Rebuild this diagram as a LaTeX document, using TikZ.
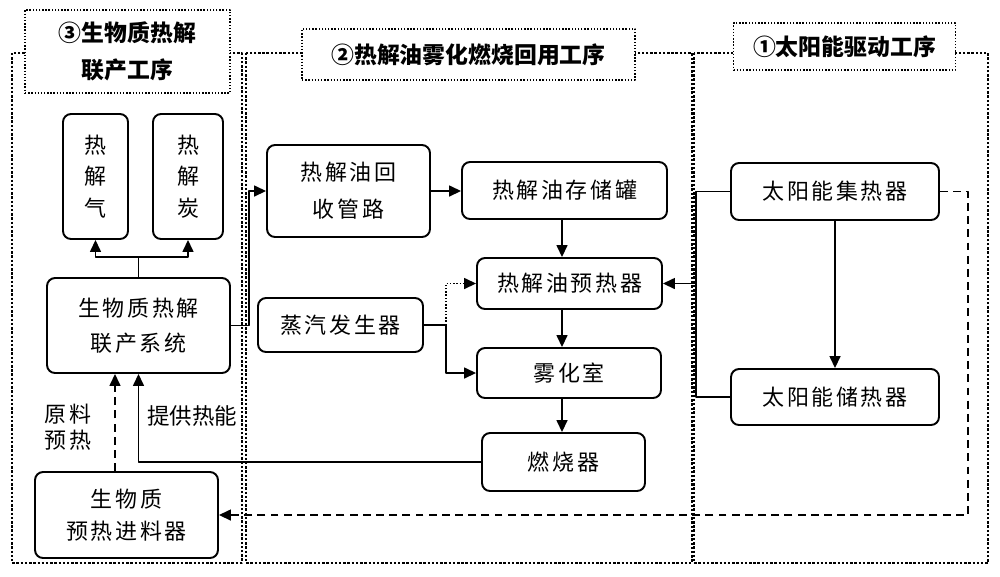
\documentclass[tikz,border=0pt]{standalone}
\usepackage{fontspec}
\setmainfont{Noto Sans CJK SC}
\newfontfamily\boxfont{Noto Sans CJK SC}[LetterSpace=12]
\usetikzlibrary{positioning,arrows.meta,calc}

\begin{document}
\begin{tikzpicture}[x=0.02cm, y=-0.02cm, line join=round,
  every node/.style={font={\boxfont\fontsize{12.5}{17}\selectfont}, align=center},
  box/.style={draw, line width=1.1pt, rounded corners=0.16cm, fill=white},
  arr/.style={-{Triangle[length=2.4mm,width=2.2mm]}, line width=0.85pt},
  dashline/.style={dash pattern=on 4.5pt off 3pt},
  panel/.style={draw, densely dotted, line width=1.4pt},
  heading/.style={draw, densely dotted, line width=0.8pt, fill=white, inner sep=0pt,
    font={\rmfamily\bfseries\fontsize{13}{21}\selectfont}}]
  \useasboundingbox (0,0) rectangle (1000,576);
  % three process panels
  \draw[panel] (12,53) rectangle (242,563);
  \draw[panel] (246,53) rectangle (692,563);
  \draw[panel] (694,53) rectangle (988,563);
  \node[heading, minimum width=4.1cm, minimum height=1.66cm] (h3) at (127.5,51.5) {③生物质热解\\联产工序};
  \node[heading, minimum width=6.66cm, minimum height=1.02cm] (h2) at (468.5,54.5) {②热解油雾化燃烧回用工序};
  \node[heading, minimum width=4.44cm, minimum height=0.94cm] (h1) at (844.5,46.5) {①太阳能驱动工序};
  % panel 3
  \node[box, minimum width=1.3cm, minimum height=2.5cm] (gas) at (95.5,176.5) {热\\[1pt]解\\[1pt]气};
  \node[box, minimum width=1.4cm, minimum height=2.5cm] (char) at (188,176.5) {热\\[1pt]解\\[1pt]炭};
  \node[box, minimum width=3.66cm, minimum height=1.9cm] (cogen) at (138.5,325.5) {生物质热解\\[3pt]联产系统};
  \node[box, minimum width=3.66cm, minimum height=1.72cm] (feeder) at (126.5,515) {生物质\\[1pt]预热进料器};
  \node (rawlbl) at (68,427) {原料\\[-2pt]预热};
  \node[font={\rmfamily\fontsize{12.8}{15}\selectfont}] (heatlbl) at (192,416) {提供热能};
  % panel 2
  \node[box, minimum width=3.26cm, minimum height=1.84cm] (pipe) at (348.5,191) {热解油回\\[4pt]收管路};
  \node[box, minimum width=4.1cm, minimum height=1.14cm] (tank) at (564.5,190.5) {热解油存储罐};
  \node[box, minimum width=3.7cm, minimum height=1.02cm] (preh) at (569.5,283.5) {热解油预热器};
  \node[box, minimum width=3.68cm, minimum height=1.0cm] (atom) at (569,373) {雾化室};
  \node[box, minimum width=3.3cm, minimum height=1.08cm] (steam) at (340.5,325) {蒸汽发生器};
  \node[box, minimum width=3.26cm, minimum height=1.16cm] (burner) at (563.5,462) {燃烧器};
  % panel 1
  \node[box, minimum width=4.16cm, minimum height=1.14cm] (coll) at (835,191.5) {太阳能集热器};
  \node[box, minimum width=4.16cm, minimum height=1.12cm] (stor) at (835,397) {太阳能储热器};
  \coordinate (oilx) at (562,0);
  \coordinate (rawx) at (115,0);
  \coordinate (bus) at (696,283.5);
  % connectors
  \draw[arr] (cogen.north) -- ++(0,-20) -| (gas.south);
  \draw[arr] (cogen.north) -- ++(0,-20) -| (char.south);
  \draw[arr] (cogen.east) -- ++(18,0) |- (pipe.west);
  \draw[arr] (pipe.east) -- (pipe.east -| tank.west);
  \draw[arr] (tank.south -| oilx) -- (preh.north -| oilx);
  \draw[arr] (preh.south -| oilx) -- (atom.north -| oilx);
  \draw[arr] (atom.south -| oilx) -- (burner.north -| oilx);
  \draw[line width=0.85pt] (steam.east) -- ++(22,0) coordinate (sj);
  \draw[arr] (sj) |- (atom.west);
  \draw[arr, densely dotted] (sj) |- (preh.west);
  \draw[line width=0.85pt] (coll.west) -| (bus) |- (stor.west);
  \draw[arr] (bus) -- (preh.east);
  \draw[arr] (coll) -- (stor);
  \draw[arr, dashline] (coll.east) -- ++(28,0) |- (feeder.east);
  \draw[arr, dashline] (feeder.north -| rawx) -- (cogen.south -| rawx);
  \draw[arr] (burner.west) -| (cogen.south);
\end{tikzpicture}
\end{document}
